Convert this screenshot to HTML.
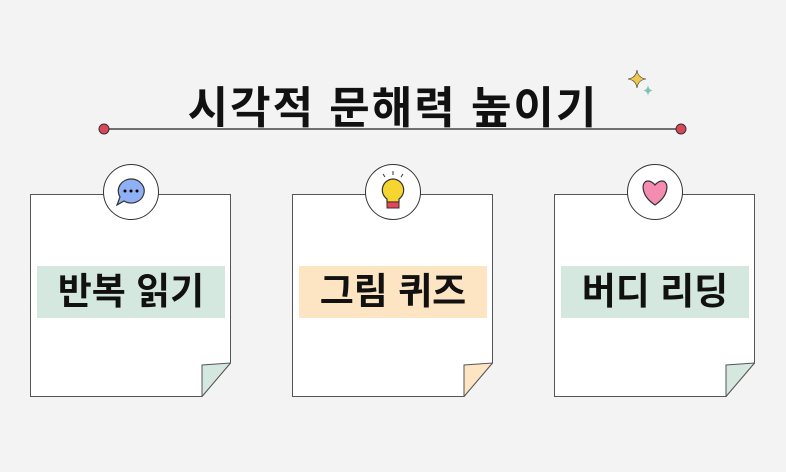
<!DOCTYPE html><html><head><meta charset="utf-8"><style>
body{margin:0;width:786px;height:472px;background:#f3f3f3;position:relative;overflow:hidden;font-family:"Liberation Sans","Noto Sans CJK KR",sans-serif}
.t{position:absolute;left:0;width:786px;top:72px;text-align:center;font-size:44px;font-weight:bold;color:#111;letter-spacing:2px}
.card{position:absolute;top:194px;width:201px;height:203px}
.lab{position:absolute;top:72px;left:7px;width:188px;height:52px;line-height:52px;text-align:center;font-size:37px;font-weight:bold;color:#111}
.ic{position:absolute;top:-30px;left:73px;width:54px;height:54px;border-radius:50%;background:#fff;border:1.5px solid #333}
.ic svg{position:absolute;left:5px;top:5px}
</style></head><body>
<div class="t">시각적 문해력 높이기</div>
<svg style="position:absolute;left:0;top:0" width="786" height="472">
<line x1="104" y1="129" x2="681" y2="129" stroke="#444" stroke-width="1.5"/>
<circle cx="104" cy="129" r="5" fill="#d9475a" stroke="#333"/>
<circle cx="681" cy="129" r="5" fill="#d9475a" stroke="#333"/>
<path d="M637 70 Q638 78 646 79 Q638 80 637 88 Q636 80 628 79 Q636 78 637 70Z" fill="#f2c84b" stroke="#333" stroke-width=".6"/>
<path d="M648 85 Q648.5 90 653 90.5 Q648.5 91 648 96 Q647.5 91 643 90.5 Q647.5 90 648 85Z" fill="#7cc4b0"/>
</svg>
<div class="card" style="left:30px">
<svg width="201" height="203" style="position:absolute"><path d="M0.5 0.5H200.5V169L172 202.5H0.5Z" fill="#fff" stroke="#555"/><path d="M200.5 169L172 202.5V171Z" fill="#d5e8df" stroke="#555"/></svg>
<div class="lab" style="background:#d5e8df">반복 읽기</div>
<div class="ic"><svg width="44" height="44"><path d="M22 9a13 12 0 1 1 -7 22l-7 4l3-8a13 12 0 0 1 11-18z" fill="#8fb0f5" stroke="#333" stroke-width="1.2"/><circle cx="16" cy="21" r="1.5"/><circle cx="22" cy="21" r="1.5"/><circle cx="28" cy="21" r="1.5"/></svg></div>
</div>
<div class="card" style="left:292px">
<svg width="201" height="203" style="position:absolute"><path d="M0.5 0.5H200.5V169L172 202.5H0.5Z" fill="#fff" stroke="#555"/><path d="M200.5 169L172 202.5V171Z" fill="#fde5c4" stroke="#555"/></svg>
<div class="lab" style="background:#fde5c4">그림 퀴즈</div>
<div class="ic"><svg width="44" height="44"><path d="M22 9a11 11 0 0 0 -6 20v3h12v-3a11 11 0 0 0 -6 -20z" fill="#f7d530" stroke="#333" stroke-width="1.2"/><rect x="16" y="32" width="12" height="6" fill="#e9435a" stroke="#333" stroke-width="1"/><path d="M22 1v4M12 4l2 3M32 4l-2 3" stroke="#333"/></svg></div>
</div>
<div class="card" style="left:554px">
<svg width="201" height="203" style="position:absolute"><path d="M0.5 0.5H200.5V169L172 202.5H0.5Z" fill="#fff" stroke="#555"/><path d="M200.5 169L172 202.5V171Z" fill="#d5e8df" stroke="#555"/></svg>
<div class="lab" style="background:#d5e8df">버디 리딩</div>
<div class="ic"><svg width="44" height="44"><path d="M22 35C7 25 8 11 15 11c4 0 7 4 7 4s3-4 7-4c7 0 8 14-7 24z" fill="#f48bb0" stroke="#333" stroke-width="1.2"/></svg></div>
</div>
</body></html>
